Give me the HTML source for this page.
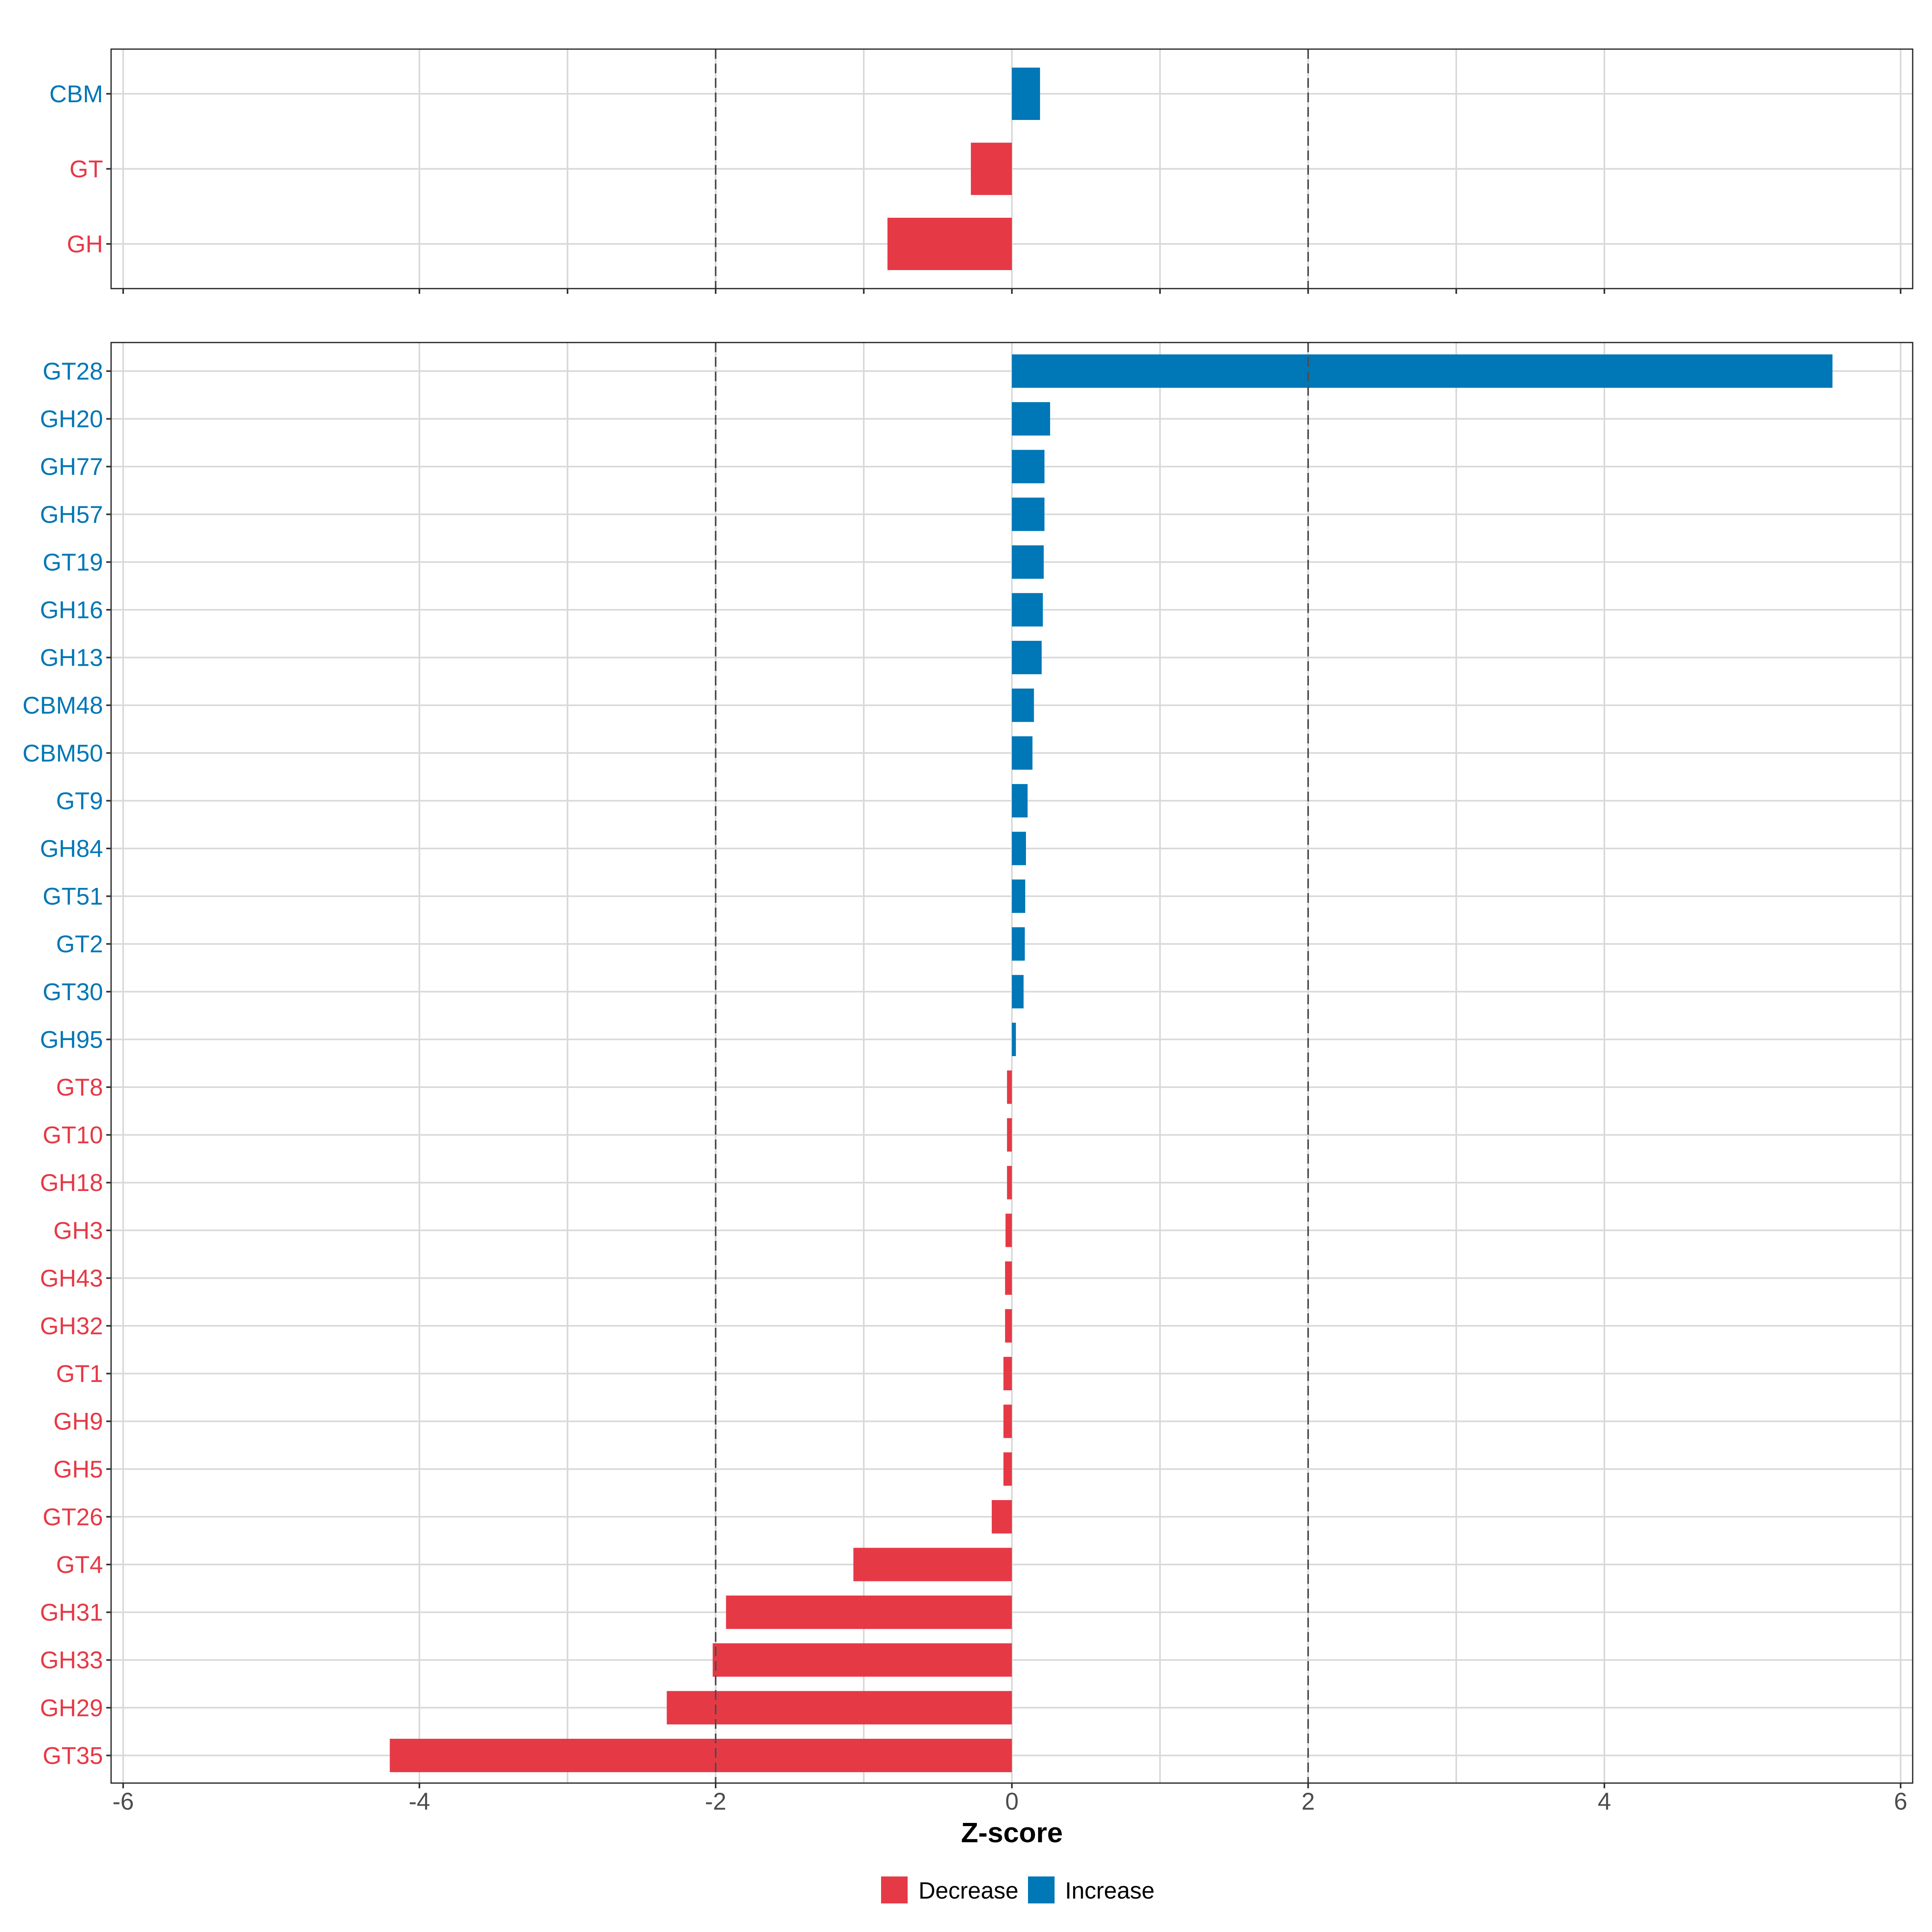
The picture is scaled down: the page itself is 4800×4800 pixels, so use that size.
<!DOCTYPE html>
<html><head><meta charset="utf-8">
<style>
html,body{margin:0;padding:0;background:#fff;}
svg{display:block;font-family:"Liberation Sans",Arial,sans-serif;}
</style></head>
<body>
<svg id="chart" width="4800" height="4800" viewBox="0 0 4800 4800" xmlns="http://www.w3.org/2000/svg"></svg>
<script>
const topCategories = ["CBM","GT","GH"];
const topValues = [0.19, -0.277, -0.84];
const botCategories = ["GT28","GH20","GH77","GH57","GT19","GH16","GH13","CBM48","CBM50","GT9","GH84","GT51","GT2","GT30","GH95","GT8","GT10","GH18","GH3","GH43","GH32","GT1","GH9","GH5","GT26","GT4","GH31","GH33","GH29","GT35"];
const botValues = [5.54,0.258,0.22,0.22,0.215,0.209,0.201,0.149,0.139,0.106,0.095,0.09,0.087,0.079,0.027,-0.033,-0.033,-0.033,-0.043,-0.046,-0.046,-0.057,-0.057,-0.057,-0.136,-1.07,-1.93,-2.02,-2.33,-4.2];
const xTicks = [-6,-4,-2,0,2,4,6];
const gridBreaks = [-6,-4,-3,-2,-1,0,1,2,3,4,6];
const thresholds = [-2,2];

const NS = "http://www.w3.org/2000/svg";
const svg = document.getElementById("chart");
const RED = "#e63946", BLUE = "#0077b6";
const PL = 276, PR = 4752;
const x = v => 2514 + v * 368;

function el(tag, attrs, parent, text) {
  const e = document.createElementNS(NS, tag);
  for (const k in attrs) e.setAttribute(k, attrs[k]);
  if (text !== undefined) e.textContent = text;
  (parent || svg).appendChild(e);
  return e;
}

function panel(name, top, bottom, cats, vals, firstY, step, barH, showLabels) {
  const g = el("g", {});
  
  
  const y = i => firstY + i * step;
  gridBreaks.forEach(t => {
    const l = el("line", {x1:x(t), x2:x(t), y1:top, y2:bottom, stroke:"#d9d9d9", "stroke-width":4}, g);
    
    
  });
  cats.forEach((c, i) => {
    const l = el("line", {x1:PL, x2:PR, y1:y(i), y2:y(i), stroke:"#d9d9d9", "stroke-width":4}, g);
    
    
  });
  cats.forEach((c, i) => {
    const v = vals[i];
    const x0 = Math.min(x(0), x(v)), w = Math.abs(x(v) - x(0));
    const r = el("rect", {x:x0, y:y(i)-barH/2, width:w, height:barH, fill: v >= 0 ? BLUE : RED}, g);
    
    
  });
  thresholds.forEach(t => {
    const l = el("line", {x1:x(t), x2:x(t), y1:top, y2:bottom, stroke:"#4d4d4d", "stroke-width":4, "stroke-dasharray":"24,12"}, g);
    
    
  });
  const b = el("rect", {x:PL, y:top, width:PR-PL, height:bottom-top, fill:"none", stroke:"#222", "stroke-width":3}, g);
  
  
  cats.forEach((c, i) => {
    const t = el("line", {x1:PL-12, x2:PL, y1:y(i), y2:y(i), stroke:"#333", "stroke-width":4}, g);
    
    
    const lab = el("text", {x:PL-20, y:y(i)+21, "text-anchor":"end", "font-size":60, fill: vals[i] >= 0 ? BLUE : RED}, g, c);
    
    
  });
  const tickSet = showLabels ? xTicks : gridBreaks;
  tickSet.forEach(t => {
    const tk = el("line", {x1:x(t), x2:x(t), y1:bottom, y2:bottom+13, stroke:"#333", "stroke-width":4}, g);
    
    
    if (showLabels) {
      const lab = el("text", {x:x(t), y:bottom+66, "text-anchor":"middle", "font-size":60, fill:"#4d4d4d"}, g, String(t));
      
      
    }
  });
}

panel("top-panel", 122, 717, topCategories, topValues, 233, 186.5, 130, false);
panel("bottom-panel", 851, 4430, botCategories, botValues, 922, 118.6, 83, true);

const title = el("text", {x:2514, y:4577, "text-anchor":"middle", "font-size":70, "font-weight":"bold", fill:"#000"}, svg, "Z-score");



const lg = el("g", {});


const k1 = el("rect", {x:2189, y:4662, width:66, height:67, fill:RED}, lg);


const t1 = el("text", {x:2282, y:4717, "font-size":58, fill:"#000"}, lg, "Decrease");


const k2 = el("rect", {x:2554, y:4662, width:66, height:67, fill:BLUE}, lg);


const t2 = el("text", {x:2646, y:4717, "font-size":58, fill:"#000"}, lg, "Increase");


</script>
</body></html>
